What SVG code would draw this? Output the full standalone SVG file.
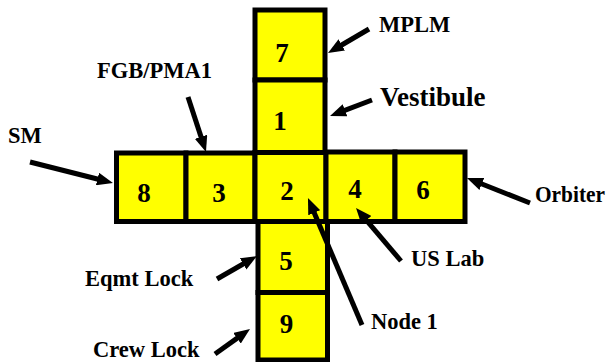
<svg xmlns="http://www.w3.org/2000/svg" width="608" height="362" viewBox="0 0 608 362">
  <style>
    .cell { fill: #ffff00; stroke: #000; stroke-width: 5; }
    .num { font-family: "Liberation Serif", "Times New Roman", serif; font-weight: bold; font-size: 27px; fill: #000; text-anchor: middle; }
    .lbl { font-family: "Liberation Serif", "Times New Roman", serif; font-weight: bold; font-size: 22.5px; fill: #000; }
    .big { font-size: 27px; }
    .arrow { stroke: #000; stroke-width: 5; fill: none; marker-end: url(#head); }
  </style>
  <defs>
    <marker id="head" markerUnits="userSpaceOnUse" markerWidth="16" markerHeight="13" viewBox="0 0 16 13" refX="8" refY="6.5" orient="auto">
      <path d="M0,0 L16,6.5 L0,13 z" fill="#000"/>
    </marker>
  </defs>
  <rect width="608" height="362" fill="#fff"/>

  <!-- upper column -->
  <g id="m7"><rect class="cell" x="255" y="10" width="70" height="70"/><text class="num" x="282" y="62">7</text></g>
  <g id="m1"><rect class="cell" x="255" y="80" width="70" height="72.5"/><text class="num" x="280" y="130">1</text></g>

  <!-- horizontal row -->
  <g id="m8"><rect class="cell" x="116.5" y="153" width="69.5" height="68.5"/><text class="num" x="144" y="202">8</text></g>
  <g id="m3"><rect class="cell" x="186" y="153" width="69" height="68.5"/><text class="num" x="219" y="202">3</text></g>
  <g id="m2"><rect class="cell" x="255" y="152.5" width="71" height="69"/><text class="num" x="287" y="200">2</text></g>
  <g id="m4"><rect class="cell" x="326" y="152" width="69" height="69.5"/><text class="num" x="355" y="198">4</text></g>
  <g id="m6"><rect class="cell" x="395" y="152" width="70" height="69.5"/><text class="num" x="423" y="199">6</text></g>

  <!-- lower column -->
  <g id="m5"><rect class="cell" x="258" y="221.5" width="69.5" height="71"/><text class="num" x="286" y="270">5</text></g>
  <g id="m9"><rect class="cell" x="258" y="292.5" width="69.5" height="67.5"/><text class="num" x="286.5" y="333">9</text></g>

  <!-- labels -->
  <g id="labels">
    <text class="lbl" x="379" y="32">MPLM</text>
    <text class="lbl big" x="380" y="106">Vestibule</text>
    <text class="lbl" x="97" y="78">FGB/PMA1</text>
    <text class="lbl" x="8" y="143">SM</text>
    <text class="lbl" x="535" y="202" textLength="70" lengthAdjust="spacingAndGlyphs">Orbiter</text>
    <text class="lbl" x="411" y="266">US Lab</text>
    <text class="lbl" x="371" y="329">Node 1</text>
    <text class="lbl" x="85" y="286">Eqmt Lock</text>
    <text class="lbl" x="93" y="357">Crew Lock</text>
  </g>

  <!-- pointer arrows -->
  <g id="connectors">
    <line class="arrow" x1="30" y1="162" x2="105.2" y2="181"/>
    <line class="arrow" x1="188" y1="97" x2="203.5" y2="144.4"/>
    <line class="arrow" x1="369" y1="29" x2="334.9" y2="49"/>
    <line class="arrow" x1="372" y1="100" x2="337.5" y2="113.1"/>
    <line class="arrow" x1="530" y1="203" x2="474.4" y2="181"/>
    <line class="arrow" x1="401" y1="261" x2="361.2" y2="214.1"/>
    <line class="arrow" x1="362" y1="325" x2="311.1" y2="205.4"/>
    <line class="arrow" x1="217" y1="279" x2="250.1" y2="260"/>
    <line class="arrow" x1="215" y1="354" x2="243.5" y2="333.6"/>
  </g>
</svg>
